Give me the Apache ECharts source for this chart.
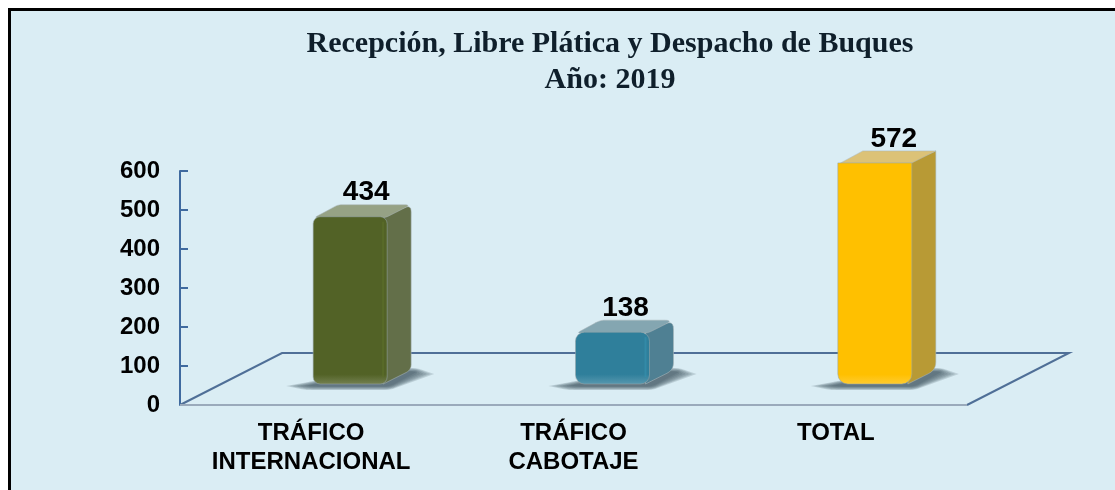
<!DOCTYPE html>
<html><head><meta charset="utf-8">
<style>html,body{margin:0;padding:0;background:#fff}
#frame{position:absolute;left:8px;top:8px;width:1107px;height:482px;box-sizing:border-box;border:3px solid #000;border-right:none;border-bottom:none;background:#daedf4}
#c{position:absolute;left:0;top:0;width:1115px;height:490px}</style>
<script src="https://cdn.jsdelivr.net/npm/echarts@6/dist/echarts.min.js"></script>
</head><body><div id="frame"></div><div id="c"></div>
<script>
const categories = ['TRÁFICO\nINTERNACIONAL', 'TRÁFICO\nCABOTAJE', 'TOTAL'];
const values = [434, 138, 572];
const yMax = 600;
const yInterval = 100;
const titleLines = 'Recepción, Libre Plática y Despacho de Buques\nAño: 2019';

const frontColors = ['#526226', '#2f7f9b', '#ffc000'];
const sideColors = ['#636f49', '#4f8093', '#b89a35'];
const topColors = ['#96a285', '#84a6b1', '#dcc277'];
const cornerRadius = [7, 9, 0];
const bottomRadius = [7, 9, 10];
const labelNudge = [16, 13, 19];

// Projection of the floor
const floorDx = 102, floorDy = 52;     // back edge relative to the front edge
const barDx = 39, barDy = 21;          // bar base relative to the front edge
const depthDx = 24, depthDy = 12;      // depth of each bar
const frontW = 74;

const chart = echarts.init(document.getElementById('c'), null, {renderer:'canvas'});

// Outline with rounded corners: pts = [[x, y, radius], ...]
function rounded(pts) {
  const out = [];
  const n = pts.length;
  for (let i = 0; i < n; i++) {
    const p = pts[i], a = pts[(i + n - 1) % n], b = pts[(i + 1) % n], r = p[2] || 0;
    if (!r) { out.push([p[0], p[1]]); continue; }
    const la = Math.hypot(a[0]-p[0], a[1]-p[1]), lb = Math.hypot(b[0]-p[0], b[1]-p[1]);
    const s = [p[0] + (a[0]-p[0]) * Math.min(r/la, .5), p[1] + (a[1]-p[1]) * Math.min(r/la, .5)];
    const e = [p[0] + (b[0]-p[0]) * Math.min(r/lb, .5), p[1] + (b[1]-p[1]) * Math.min(r/lb, .5)];
    for (let k = 0; k <= 6; k++) {
      const t = k / 6, u = 1 - t;
      out.push([u*u*s[0] + 2*u*t*p[0] + t*t*e[0], u*u*s[1] + 2*u*t*p[1] + t*t*e[1]]);
    }
  }
  return out;
}

function floorItem(params, api) {
  const p0 = api.coord([0, 0]);
  const band = api.size([1, 0])[0];
  const x0 = p0[0] - band / 2, x1 = x0 + band * categories.length, y = p0[1];
  return {type:'group', silent:true, children:[
    {type:'polyline', shape:{points:[[x0,y],[x0+floorDx,y-floorDy],[x1+floorDx,y-floorDy],[x1,y]]},
     style:{stroke:'#4f6f97', lineWidth:2, fill:null}},
    {type:'line', shape:{x1:x0,y1:y,x2:x1,y2:y}, style:{stroke:'#9aaabb', lineWidth:2}}
  ]};
}

function barItem(params, api) {
  const i = params.dataIndex;
  const top = api.coord([api.value(0), api.value(1)]);
  const base = api.coord([api.value(0), 0]);
  const cx = top[0] + barDx;
  const l = cx - frontW / 2, r = cx + frontW / 2;
  const yb = base[1] - barDy, yt = top[1] - barDy + 2;
  const dx = depthDx, dy = depthDy;
  const rt = cornerRadius[i], rb = bottomRadius[i];
  const backTop = yt - dy, backBottom = yb - dy;
  const color = frontColors[i];
  const children = [];
  // soft ground shadow built from nested layers
  for (let k = 0; k < 7; k++) {
    const inset = 3.5 * k, h = 0.6 * k;
    children.push({type:'polygon', shape:{points:rounded([
        [l-27+inset, yb+2, 0], [l-8+inset*0.5, yb+6-h, 5], [r+3, yb+6-h, 5],
        [r+dx+23-inset, backBottom+2, 0], [r+dx+6, backBottom-4+h, 5], [r, backBottom-4+h, 0], [l, yb-3+h, 5]])},
      style:{fill:'rgba(64,84,96,0.19)'}});
  }
  children.push(
    // side face
    {type:'polygon', shape:{points:rounded([[r-4,yt,0],[r+dx,backTop,rt],[r+dx,backBottom-2,rb*0.8],[r-4,yb,0]])},
     style:{fill:sideColors[i], stroke:'rgba(170,182,185,0.55)', lineWidth:1}},
    // top face
    {type:'polygon', shape:{points:rounded([[l+1,yt+1,rt*0.5],[l+dx+1,backTop,rt*0.5],[r+dx,backTop,rt],[r-2,yt+1,rt*0.5]])},
     style:{fill:topColors[i], stroke:'rgba(170,182,185,0.5)', lineWidth:1}},
    // front face
    {type:'rect', shape:{x:l,y:yt,width:r-l,height:yb-yt,r:[rt,rt,rb,rb]},
     style:{fill:new echarts.graphic.LinearGradient(0,0,0,1,[
        {offset:0,color:color},
        {offset:Math.max(0.5, 1 - 10/(yb-yt)),color:color},
        {offset:1,color:echarts.color.lift(color,0.2)}]),
        stroke:'rgba(150,165,170,0.55)', lineWidth:1}}
  );
  if (rt) {
    // bevel highlight down the right edge of the rounded bars
    children.push({type:'line', shape:{x1:r-4,y1:yt+5,x2:r-4,y2:yb-7},
      style:{stroke:echarts.color.lift(color,-0.12), lineWidth:2, opacity:0.7}});
  }
  // value label
  children.push({type:'text', style:{text:String(api.value(1)), x:cx+labelNudge[i], y:backTop-12, align:'center', verticalAlign:'middle',
      font:'bold 28px "Liberation Sans"', fill:'#000'}});
  return {type:'group', silent:true, children};
}

chart.setOption({
  animation:false,
  backgroundColor:'transparent',
  title:{text:titleLines, left:605, top:21, textAlign:'center',
    textStyle:{fontFamily:'Liberation Serif', fontWeight:'bold', fontSize:30, color:'#0f1f2b', lineHeight:36}},
  grid:{left:180, right:148, top:171, bottom:85},
  xAxis:{type:'category', data:categories, axisTick:{show:false}, axisLine:{show:false},
    axisLabel:{color:'#000', fontFamily:'Liberation Sans', fontWeight:'bold', fontSize:24, lineHeight:29, margin:14}},
  yAxis:{type:'value', min:0, max:yMax, interval:yInterval, splitLine:{show:false},
    axisLine:{show:true, lineStyle:{color:'#3f6a9f', width:2}},
    axisTick:{show:true, inside:true, length:8, lineStyle:{color:'#3f6a9f', width:2}},
    axisLabel:{color:'#000', fontFamily:'Liberation Sans', fontWeight:'bold', fontSize:24, margin:20}},
  series:[
    {type:'custom', renderItem:floorItem, data:[[0,0]], encode:{x:0,y:1}, z:1, clip:false},
    {type:'custom', renderItem:barItem, data:values.map((v,i)=>[i,v]), encode:{x:0,y:1}, z:2, clip:false}
  ]
});
</script></body></html>
